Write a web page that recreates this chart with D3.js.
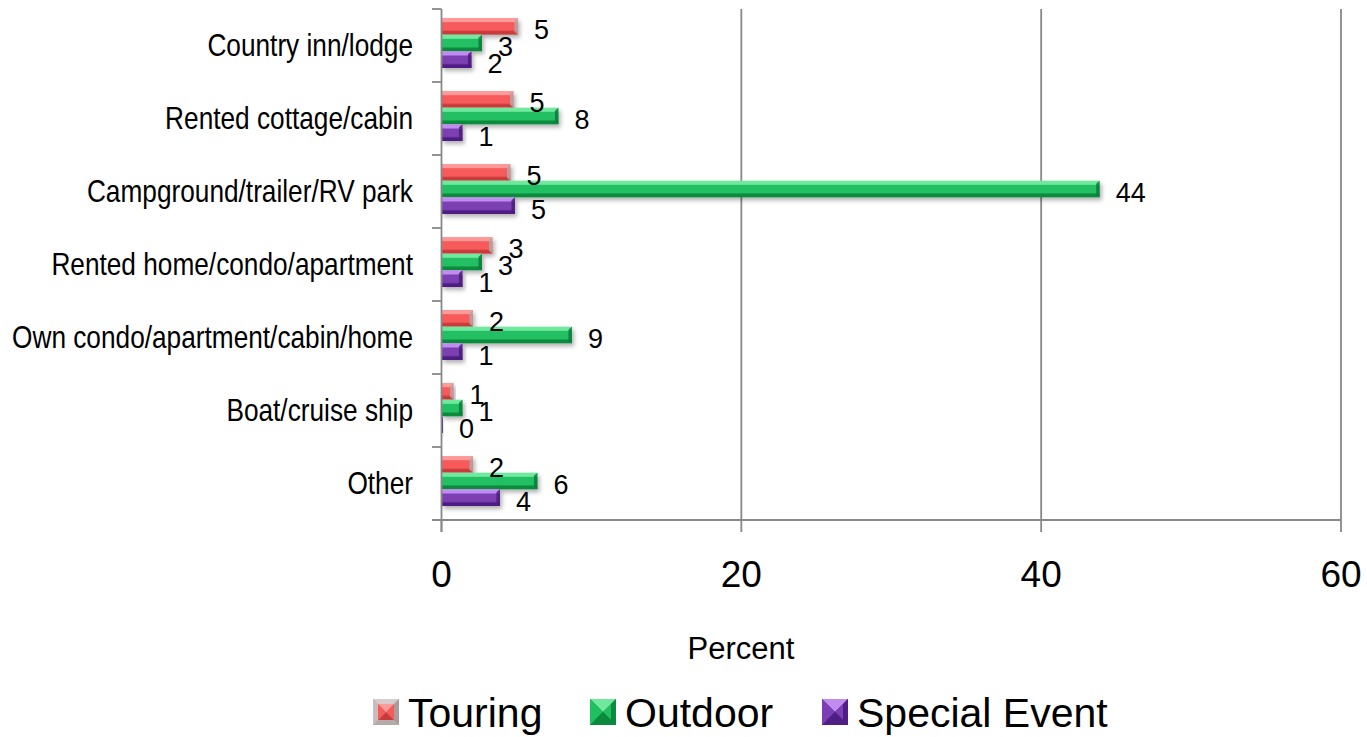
<!DOCTYPE html>
<html>
<head>
<meta charset="utf-8">
<script src="https://cdn.jsdelivr.net/npm/d3@7"></script>
<style>
  html, body { margin: 0; padding: 0; background: #fff; }
  svg { display: block; }
  .cat { font-family: "Liberation Sans", Arial, sans-serif; }
  .arial { font-family: "Liberation Sans", Arial, sans-serif; }
</style>
</head>
<body>
<svg id="chart" width="1367" height="737"></svg>
<script>
// ---- data ----
const categories = [
  "Country inn/lodge",
  "Rented cottage/cabin",
  "Campground/trailer/RV park",
  "Rented home/condo/apartment",
  "Own condo/apartment/cabin/home",
  "Boat/cruise ship",
  "Other"
];
const seriesNames = ["Touring", "Outdoor", "Special Event"];
const touring      = [5.1, 4.8, 4.6, 3.4, 2.1, 0.8, 2.1];
const outdoor      = [2.7, 7.8, 43.9, 2.7, 8.7, 1.4, 6.4];
const specialEvent = [2.0, 1.4, 4.9, 1.4, 1.4, 0.1, 3.9];
const xTicks = [0, 20, 40, 60];
const axisTitle = "Percent";

// ---- styles ----
const palette = {
  "Touring":       { light: "#ff9a9a", main: "#f75a5a", dark: "#c93b3b", cap: "#b9a3a3" },
  "Outdoor":       { light: "#6fe89e", main: "#20c062", dark: "#0b8a3d", cap: "#0f7a3a" },
  "Special Event": { light: "#c08cf0", main: "#7b3fb3", dark: "#4f1f85", cap: "#4a1f78" }
};
const seriesData = [touring, outdoor, specialEvent];

const svg = d3.select("#chart");
const defs = svg.append("defs");

const f = defs.append("filter").attr("id", "shadow").attr("x", "-10%").attr("y", "-30%").attr("width", "130%").attr("height", "190%");
f.append("feDropShadow").attr("dx", 2).attr("dy", 3).attr("stdDeviation", 2).attr("flood-color", "#000").attr("flood-opacity", 0.3);

seriesNames.forEach((s, i) => {
  const p = palette[s];
  const g = defs.append("linearGradient").attr("id", "grad" + i).attr("x1", 0).attr("y1", 0).attr("x2", 0).attr("y2", 1);
  g.append("stop").attr("offset", "0%").attr("stop-color", p.light);
  g.append("stop").attr("offset", "22%").attr("stop-color", p.light);
  g.append("stop").attr("offset", "28%").attr("stop-color", p.main);
  g.append("stop").attr("offset", "72%").attr("stop-color", p.main);
  g.append("stop").attr("offset", "82%").attr("stop-color", p.dark);
  g.append("stop").attr("offset", "100%").attr("stop-color", p.dark);
});

// ---- scales ----
const x = d3.scaleLinear().domain([0, 60]).range([441.5, 1341]);
const y = d3.scaleBand().domain(categories).range([9, 520]).padding(0);
const ySub = d3.scaleBand().domain(seriesNames).range([9, 59]).padding(0);

const gridColor = "#888888";

svg.append("g").selectAll("line").data(xTicks.filter(d => d > 0)).join("line")
  .attr("x1", d => x(d)).attr("x2", d => x(d))
  .attr("y1", 9).attr("y2", 520)
  .attr("stroke", gridColor).attr("stroke-width", 1.8);

const rows = [];
categories.forEach((c, ci) => {
  seriesNames.forEach((s, si) => {
    rows.push({ cat: c, series: s, si: si, value: seriesData[si][ci] });
  });
});

const barG = svg.append("g");
const bars = barG.selectAll("g.bar").data(rows).join("g").attr("class", "bar")
  .attr("filter", "url(#shadow)");
bars.append("rect")
  .attr("x", x(0))
  .attr("y", d => y(d.cat) + ySub(d.series))
  .attr("width", d => Math.max(0.5, x(d.value) - x(0)))
  .attr("height", ySub.bandwidth())
  .attr("fill", d => "url(#grad" + d.si + ")");
bars.append("path")
  .attr("d", d => {
    const x1 = x(d.value), x0 = Math.max(x(0), x1 - 3.5);
    const y0 = y(d.cat) + ySub(d.series), h = ySub.bandwidth();
    return `M${x0},${y0 + 3} L${x1},${y0} L${x1},${y0 + h} L${x0},${y0 + h - 3} Z`;
  })
  .attr("fill", d => palette[d.series].cap)
  .attr("opacity", 0.85);

const fmt = d3.format(".0f");
svg.append("g").selectAll("text").data(rows).join("text")
  .attr("class", "arial")
  .attr("x", d => x(d.value) + 16)
  .attr("y", d => y(d.cat) + ySub(d.series) + ySub.bandwidth() / 2 + 4)
  .attr("dominant-baseline", "central")
  .attr("font-size", 27)
  .attr("fill", "#000")
  .text(d => fmt(d.value));

// left axis (category)
const yAxis = svg.append("g");
yAxis.append("line").attr("x1", x(0)).attr("x2", x(0)).attr("y1", 9).attr("y2", 532)
  .attr("stroke", gridColor).attr("stroke-width", 1.8);
const boundaries = categories.map(c => y(c)).concat([y.range()[1]]);
yAxis.selectAll("line.tk").data(boundaries).join("line").attr("class", "tk")
  .attr("x1", 432).attr("x2", x(0)).attr("y1", d => d).attr("y2", d => d)
  .attr("stroke", gridColor).attr("stroke-width", 1.8);
yAxis.selectAll("text").data(categories).join("text")
  .attr("class", "cat")
  .attr("transform", d => `translate(413,${y(d) + y.bandwidth() / 2}) scale(0.82,1)`)
  .attr("x", 0).attr("y", 0)
  .attr("dominant-baseline", "central")
  .attr("text-anchor", "end")
  .attr("font-size", 32)
  .attr("fill", "#000")
  .text(d => d);

// bottom axis
const xAxis = svg.append("g");
xAxis.append("line").attr("x1", 432).attr("x2", x(60)).attr("y1", 520).attr("y2", 520)
  .attr("stroke", gridColor).attr("stroke-width", 1.8);
xAxis.selectAll("line.tk").data(xTicks).join("line").attr("class", "tk")
  .attr("x1", d => x(d)).attr("x2", d => x(d)).attr("y1", 520).attr("y2", 532)
  .attr("stroke", gridColor).attr("stroke-width", 1.8);
xAxis.selectAll("text").data(xTicks).join("text")
  .attr("class", "arial")
  .attr("x", d => x(d))
  .attr("y", 574)
  .attr("dominant-baseline", "central")
  .attr("text-anchor", "middle")
  .attr("font-size", 37)
  .attr("fill", "#000")
  .text(d => d);

svg.append("text").attr("class", "arial")
  .attr("x", 741).attr("y", 648)
  .attr("dominant-baseline", "central")
  .attr("text-anchor", "middle")
  .attr("font-size", 31)
  .attr("fill", "#000")
  .text(axisTitle);

// legend
const legendX = [373, 590, 822];
const leg = svg.append("g").selectAll("g").data(seriesNames).join("g")
  .attr("transform", (d, i) => `translate(${legendX[i]},699)`);
leg.each(function(s) {
  const g = d3.select(this), p = palette[s], sz = 26, m = 5;
  g.append("rect").attr("width", sz).attr("height", sz).attr("fill", s === "Touring" ? "#b5aaaa" : p.dark);
  g.append("path").attr("d", `M0,0 L${sz},0 L${sz - m},${m} L${m},${m} Z`).attr("fill", s === "Touring" ? "#d8cccc" : p.light);
  g.append("path").attr("d", `M0,0 L${m},${m} L${m},${sz - m} L0,${sz} Z`).attr("fill", s === "Touring" ? "#c8bcbc" : p.main);
  g.append("path").attr("d", `M${sz},0 L${sz},${sz} L${sz - m},${sz - m} L${sz - m},${m} Z`).attr("fill", s === "Touring" ? "#a89c9c" : p.dark);
  g.append("path").attr("d", `M${m},${m} L${sz - m},${m} L${sz / 2},${sz / 2} Z`).attr("fill", p.light);
  g.append("path").attr("d", `M${m},${m} L${sz / 2},${sz / 2} L${m},${sz - m} Z`).attr("fill", p.main);
  g.append("path").attr("d", `M${sz - m},${m} L${sz - m},${sz - m} L${sz / 2},${sz / 2} Z`).attr("fill", p.main);
  g.append("path").attr("d", `M${m},${sz - m} L${sz / 2},${sz / 2} L${sz - m},${sz - m} Z`).attr("fill", p.dark);
  g.append("text").attr("class", "arial")
    .attr("x", 35).attr("y", 14)
    .attr("dominant-baseline", "central")
    .attr("font-size", 41)
    .attr("fill", "#000")
    .text(s);
});
</script>
</body>
</html>
